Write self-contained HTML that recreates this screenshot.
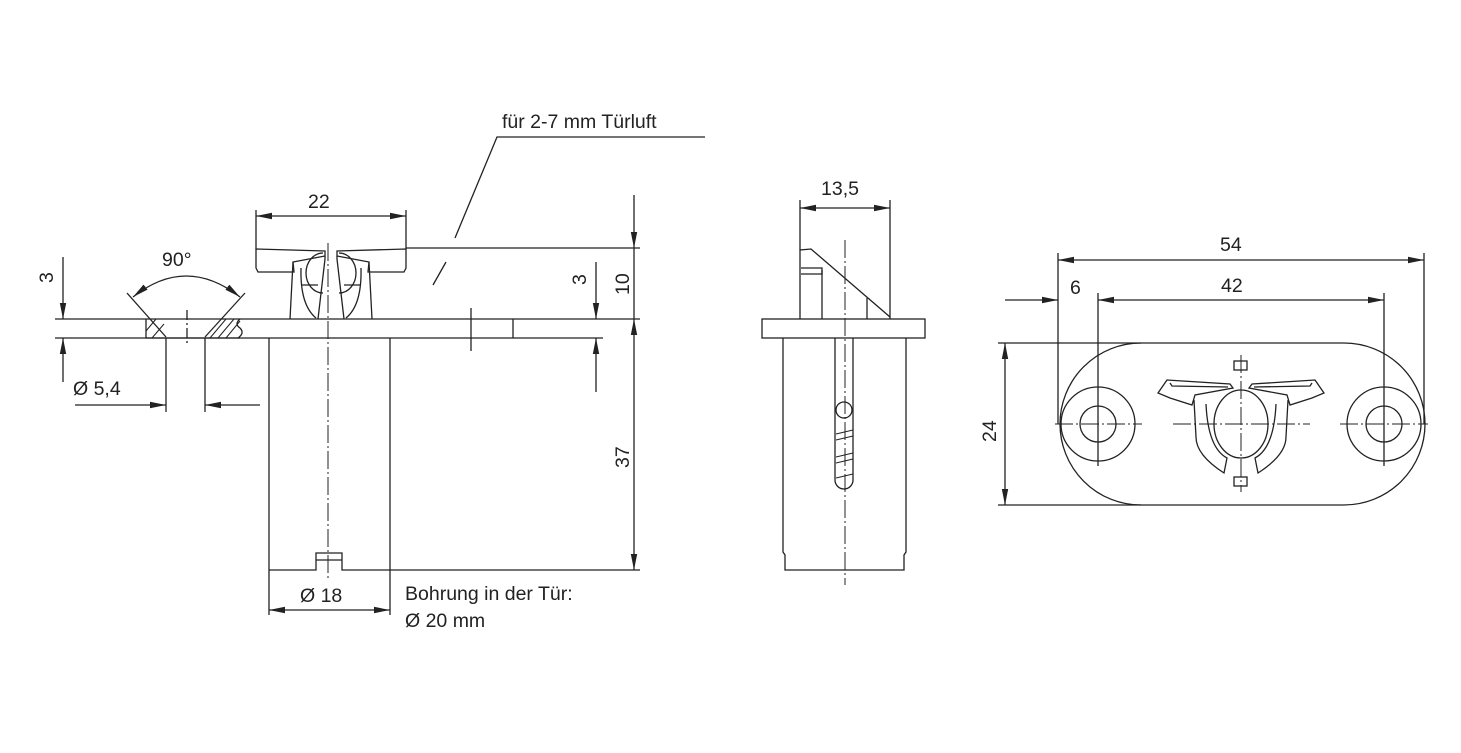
<!DOCTYPE html>
<html><head><meta charset="utf-8"><style>
html,body{margin:0;padding:0;background:#fff}
svg{display:block}
text{font-family:"Liberation Sans",sans-serif;font-size:19.5px;fill:#222}
</style></head><body>
<svg width="1461" height="753" viewBox="0 0 1461 753" xmlns="http://www.w3.org/2000/svg">
<defs>
<marker id="a" viewBox="0 0 16 7" refX="16" refY="3.5" markerWidth="16" markerHeight="7" markerUnits="userSpaceOnUse" orient="auto-start-reverse"><path d="M0,0.3L16,3.5L0,6.7z" fill="#222"/></marker>
</defs>
<g stroke="#222" stroke-width="1.3" fill="none">
<!-- LEFT VIEW -->
<line x1="55" y1="319" x2="640" y2="319"/>
<line x1="55" y1="338" x2="603" y2="338"/>
<line x1="513" y1="319" x2="513" y2="338"/>
<line x1="471" y1="308" x2="471" y2="351"/>
<line x1="127" y1="293" x2="166" y2="337"/>
<line x1="245" y1="293" x2="205" y2="337"/>
<line x1="146" y1="319" x2="146" y2="338"/>
<line x1="146" y1="338" x2="240" y2="338"/>
<path d="M240,319 q-6,5 0,9 q5,5 -2,10"/>
<path d="M146,331 l10,-12 M152,338 l12,-14 M210,338 l16,-19 M218,338 l16,-19 M226,338 l14,-17" stroke-width="1"/>
<line x1="166" y1="338" x2="166" y2="412"/>
<line x1="205" y1="338" x2="205" y2="412"/>
<line x1="187" y1="310" x2="187" y2="346" stroke-dasharray="10,3,2,3"/>
<path d="M133,297 Q186,255 240,297" marker-start="url(#a)" marker-end="url(#a)"/>
<line x1="75" y1="405" x2="166" y2="405" marker-end="url(#a)"/>
<line x1="260" y1="405" x2="205" y2="405" marker-end="url(#a)"/>
<line x1="63" y1="257" x2="63" y2="319" marker-end="url(#a)"/>
<line x1="63" y1="382" x2="63" y2="338" marker-end="url(#a)"/>
<!-- clip -->
<path d="M256,249 L325,251 L325,256 L293,262 L294,272 L258,272 L256,268 Z"/>
<path d="M406,249 L337,251 L337,256 L369,262 L368,272 L404,272 L406,268 Z"/>
<path d="M293,262 L290,319 M325,256 L325,259 L318,319 M301,268 Q300,305 316,318"/>
<path d="M369,262 L372,319 M337,256 L337,259 L344,319 M361,268 Q362,305 346,318"/>
<path d="M323,253 A17,20 0 0 0 323,293 M339,253 A17,20 0 0 1 339,293"/>
<line x1="301" y1="285" x2="318" y2="285"/><line x1="344" y1="285" x2="361" y2="285"/>
<line x1="328" y1="243" x2="328" y2="580" stroke-dasharray="18,3,2,3" stroke-width="1"/>
<line x1="269" y1="338" x2="269" y2="615"/>
<line x1="390" y1="338" x2="390" y2="615"/>
<path d="M269,570 L316,570 L316,553 L342,553 L342,570 L640,570"/>
<line x1="316" y1="560" x2="342" y2="560"/>
<line x1="256" y1="210" x2="256" y2="249"/><line x1="406" y1="210" x2="406" y2="249"/>
<line x1="256" y1="216" x2="406" y2="216" marker-start="url(#a)" marker-end="url(#a)"/>
<line x1="269" y1="610" x2="390" y2="610" marker-start="url(#a)" marker-end="url(#a)"/>
<line x1="406" y1="248" x2="640" y2="248"/>
<path d="M455,238 L497,137 L705,137"/>
<line x1="433" y1="285" x2="446" y2="262"/>
<line x1="634" y1="195" x2="634" y2="248" marker-end="url(#a)"/>
<line x1="634" y1="319" x2="634" y2="570" marker-start="url(#a)" marker-end="url(#a)"/>
<line x1="634" y1="248" x2="634" y2="319"/>
<line x1="596" y1="262" x2="596" y2="319" marker-end="url(#a)"/>
<line x1="596" y1="392" x2="596" y2="338" marker-end="url(#a)"/>
<!-- MIDDLE VIEW -->
<rect x="762" y="319" width="163" height="19"/>
<path d="M783,338 L783,552 L785,555 L785,570 L904,570 L904,555 L906,552 L906,338"/>
<path d="M800,319 L800,250 L811,249 L890,317"/>
<line x1="890" y1="200" x2="890" y2="319"/>
<line x1="800" y1="200" x2="800" y2="250"/>
<line x1="822" y1="270" x2="822" y2="319"/>
<line x1="867" y1="298" x2="867" y2="319"/>
<path d="M801,268 L822,268 L822,274 L801,274"/>
<path d="M835,338 L835,480 A9,9 0 0 0 853,480 L853,338"/>
<circle cx="844" cy="410" r="8"/>
<path d="M836,434 l17,-4 M836,440 l17,-4 M836,457 l17,-4 M836,463 l17,-4 M836,478 l17,-4" stroke-width="1"/>
<line x1="845" y1="240" x2="845" y2="585" stroke-dasharray="18,3,2,3" stroke-width="1"/>
<line x1="800" y1="208" x2="890" y2="208" marker-start="url(#a)" marker-end="url(#a)"/>
<!-- RIGHT VIEW -->
<path d="M1141,343 L1344,343 A81,81 0 0 1 1344,505 L1141,505 A81,81 0 0 1 1141,343 Z"/>
<circle cx="1098" cy="424" r="37"/><circle cx="1098" cy="424" r="18"/>
<circle cx="1384" cy="424" r="37"/><circle cx="1384" cy="424" r="18"/>
<g stroke-dasharray="18,3,2,3" stroke-width="1">
<line x1="1055" y1="424" x2="1142" y2="424"/><line x1="1340" y1="424" x2="1428" y2="424"/>
<line x1="1173" y1="424" x2="1310" y2="424"/>
<line x1="1241" y1="355" x2="1241" y2="492"/>
</g>
<line x1="1098" y1="293" x2="1098" y2="466"/>
<line x1="1384" y1="293" x2="1384" y2="466"/>
<line x1="1058" y1="253" x2="1058" y2="424"/>
<line x1="1424" y1="253" x2="1424" y2="424"/>
<line x1="1058" y1="260" x2="1424" y2="260" marker-start="url(#a)" marker-end="url(#a)"/>
<line x1="1098" y1="300" x2="1384" y2="300" marker-start="url(#a)" marker-end="url(#a)"/>
<line x1="1005" y1="300" x2="1058" y2="300" marker-end="url(#a)"/>
<line x1="998" y1="343" x2="1141" y2="343"/><line x1="998" y1="505" x2="1141" y2="505"/>
<line x1="1005" y1="343" x2="1005" y2="505" marker-start="url(#a)" marker-end="url(#a)"/>
<!-- clip top -->
<path d="M1158,393 L1167,380 L1230,384 L1233,388 L1195,395 L1192,405 L1170,398 Z"/>
<path d="M1324,393 L1315,380 L1252,384 L1249,388 L1287,395 L1290,405 L1312,398 Z"/>
<path d="M1170,383 L1172,386 L1228,387"/><path d="M1312,383 L1310,386 L1254,387"/>
<ellipse cx="1241" cy="424" rx="27" ry="34"/>
<path d="M1194,400 L1196,437 Q1196,455 1224,473 L1227,458 Q1208,448 1206,404"/>
<path d="M1288,400 L1286,437 Q1286,455 1258,473 L1255,458 Q1274,448 1276,404"/>
<rect x="1234" y="361" width="13" height="9"/><rect x="1234" y="477" width="13" height="9"/>
</g>
<g>
<text x="502" y="128">für 2-7 mm Türluft</text>
<text x="308" y="208">22</text>
<text x="162" y="266">90°</text>
<text x="73" y="395">Ø 5,4</text>
<text x="300" y="602">Ø 18</text>
<text x="405" y="600">Bohrung in der Tür:</text>
<text x="405" y="627">Ø 20 mm</text>
<text x="821" y="195">13,5</text>
<text x="1220" y="251">54</text>
<text x="1221" y="292">42</text>
<text x="1070" y="294">6</text>
<text transform="translate(53,283) rotate(-90)">3</text>
<text transform="translate(586,285) rotate(-90)">3</text>
<text transform="translate(629,295) rotate(-90)">10</text>
<text transform="translate(629,468) rotate(-90)">37</text>
<text transform="translate(996,442) rotate(-90)">24</text>
</g>
</svg>
</body></html>
